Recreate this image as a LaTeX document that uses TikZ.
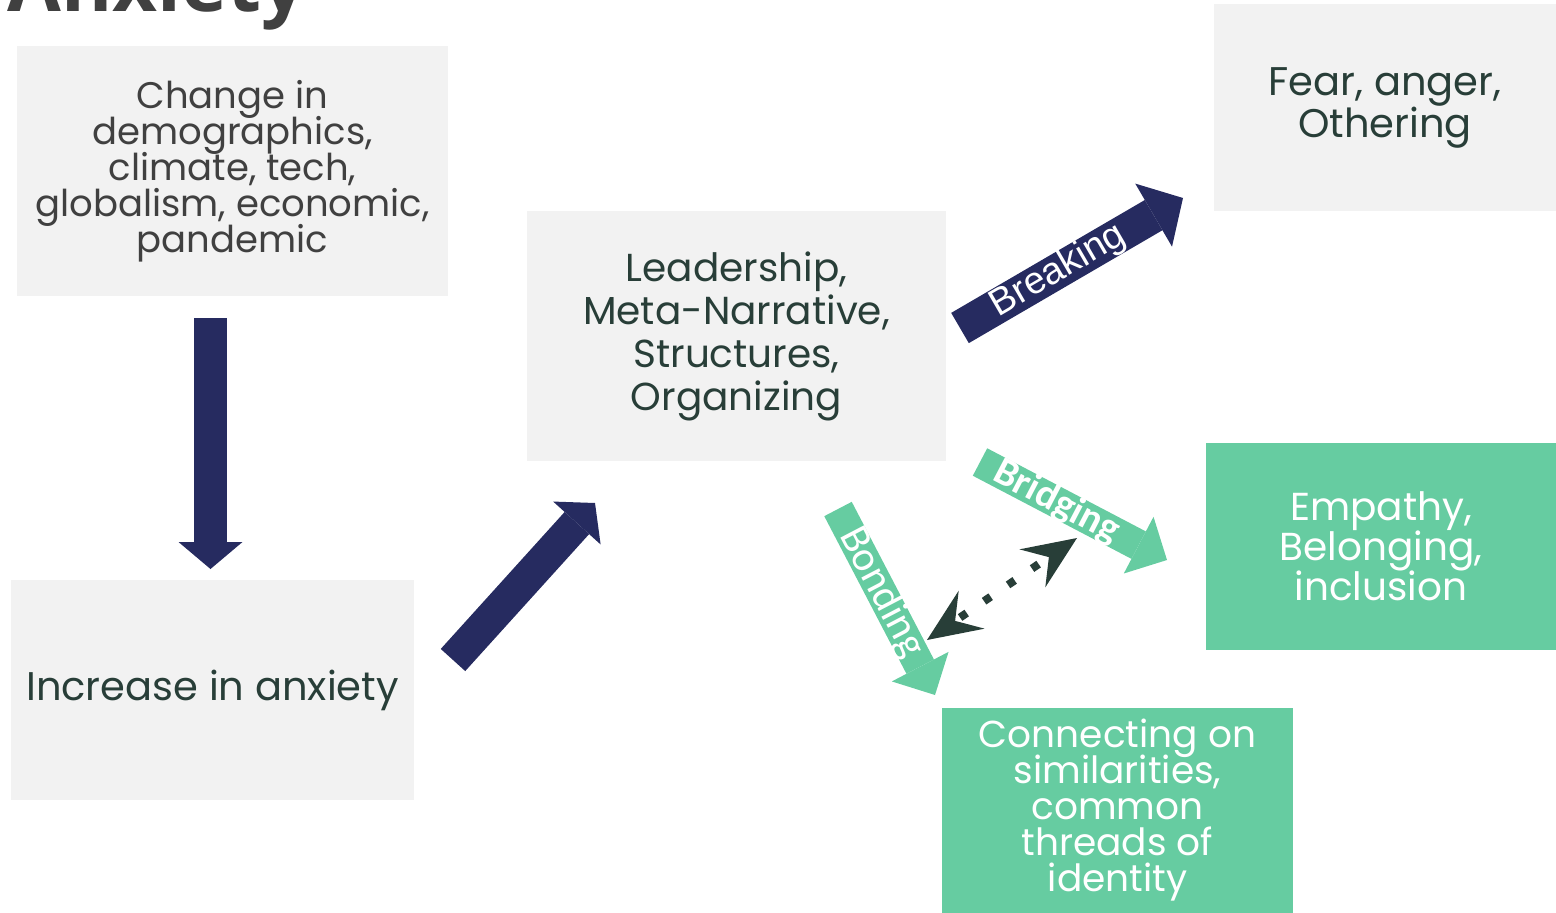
\documentclass[tikz,border=0pt]{standalone}
\usepackage{fontspec}
\setmainfont{Poppins}
\newfontfamily\arialfont{Liberation Sans}
\newfontfamily\calibrifont{Carlito}
\newfontfamily\headfont{Open Sans}
\usetikzlibrary{arrows.meta,positioning}

\definecolor{boxgrey}{RGB}{242,242,242}
\definecolor{textgrey}{RGB}{64,64,64}
\definecolor{textgreen}{RGB}{40,62,56}
\definecolor{navy}{RGB}{38,43,96}
\definecolor{mint}{RGB}{102,204,161}
\definecolor{headgrey}{RGB}{64,64,64}

% keep the tight leading of the box texts
\lineskiplimit=-100pt

\begin{document}
\begin{tikzpicture}
  [x=1pt,y=-1pt,
   greybox/.style={fill=boxgrey,text=textgreen,align=center,inner sep=0pt},
   mintbox/.style={greybox,fill=mint,text=white},
   fatarrow/.style={line width=33pt,draw=navy,
     -{Triangle[length=27pt,width=64pt,line width=0pt]}},
   mintarrow/.style={fatarrow,line width=31pt,draw=mint,
     -{Triangle[length=32pt,width=64pt,line width=0pt]}},
   link/.style={draw=textgreen,line width=8pt,dash pattern=on 8pt off 21pt,dash phase=-6pt,
     {Stealth[length=54pt,width=46pt,inset=20pt,line width=0pt]}-{Stealth[length=54pt,width=46pt,inset=20pt,line width=0pt]}}]

  \useasboundingbox (0,0) rectangle (1556,913);

  % heading, cut by the page edge
  \node [anchor=base west,inner sep=0pt,text=headgrey,
         font=\headfont\bfseries\fontsize{78}{78}\selectfont] (heading) at (7,11) {Anxiety};

  % boxes
  \node [greybox,text=textgrey,minimum width=431pt,minimum height=250pt,
         font=\fontsize{37}{36}\selectfont] (change) at (232.5,171)
        {Change in\\demographics,\\climate, tech,\\globalism, economic,\\pandemic};
  \node [greybox,minimum width=403pt,minimum height=220pt,
         font=\fontsize{40}{40}\selectfont] (anxiety) at (212.5,690)
        {Increase in anxiety};
  \node [greybox,minimum width=419pt,minimum height=250pt,
         font=\fontsize{39}{43}\selectfont] (leader) at (736.5,336)
        {Leadership,\\Meta-Narrative,\\Structures,\\Organizing};
  \node [greybox,minimum width=342pt,minimum height=207pt,
         font=\fontsize{40}{42}\selectfont] (fear) at (1385,107.5)
        {Fear, anger,\\Othering};
  \node [mintbox,minimum width=350pt,minimum height=207pt,
         font=\fontsize{39}{40}\selectfont] (empathy) at (1381,546.5)
        {Empathy,\\Belonging,\\inclusion};
  \node [mintbox,minimum width=351pt,minimum height=205pt,
         font=\fontsize{37.5}{36}\selectfont] (connect) at (1117.5,810.5)
        {Connecting on\\similarities,\\common\\threads of\\identity};

  % arrow ends
  \coordinate (c1) at (210.5,318);
  \coordinate (c2) at (210.5,569);
  \coordinate (a1) at (453,660);
  \coordinate (a2) at (595,503);
  \coordinate (l1) at (960,328);
  \coordinate (l2) at (1183,198);
  \coordinate (l3) at (980,462);
  \coordinate (l4) at (1167,560);
  \coordinate (l5) at (838,509);
  \coordinate (l6) at (935,695);
  \coordinate (d1) at (927,640);
  \coordinate (d2) at (1077,538);

  \draw [fatarrow] (c1) -- (c2);
  \draw [fatarrow] (a1) -- (a2);
  \draw [fatarrow,line width=35pt,-{Triangle[length=34pt,width=73pt,line width=0pt]}] (l1) -- (l2)
        node [pos=0.44,sloped,text=white,font=\arialfont\fontsize{38}{38}\selectfont] (breaking) {Breaking};
  \draw [mintarrow] (l3) -- (l4)
        node [pos=0.41,sloped,text=white,font=\calibrifont\bfseries\fontsize{40}{40}\selectfont] (bridging) {Bridging};
  \draw [mintarrow] (l5) -- (l6)
        node [pos=0.45,sloped,text=white,font=\calibrifont\fontsize{42}{42}\selectfont] (bonding) {Bonding};
  \draw [link] (d1) -- (d2);

\end{tikzpicture}
\end{document}
